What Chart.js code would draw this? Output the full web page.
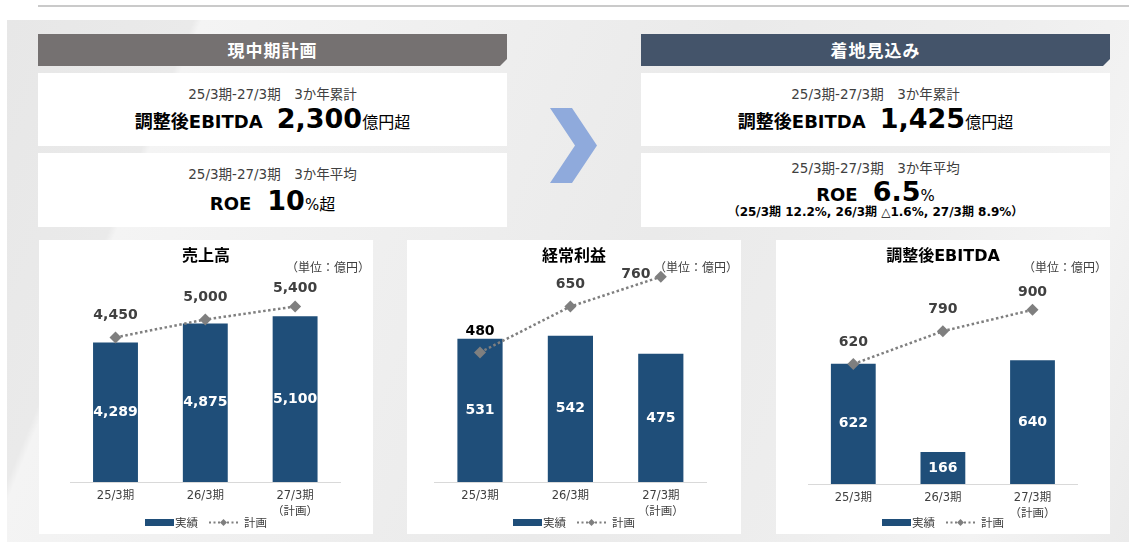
<!DOCTYPE html>
<html><head><meta charset="utf-8">
<script src="https://cdn.jsdelivr.net/npm/chart.js@4.4.1/dist/chart.umd.min.js"></script>
<style>
*{box-sizing:border-box;margin:0;padding:0}
html,body{width:1129px;height:559px;background:#fff;overflow:hidden;font-family:"DejaVu Sans","Noto Sans CJK JP",sans-serif;color:#000;position:relative}
.abs{position:absolute}
#topline{left:38px;top:5px;width:1091px;height:2px;background:#cacaca}
#bg{left:7px;top:20px;width:1122px;height:522px;background:linear-gradient(112deg,#e7e7e7 0%,#eaeaea 14%,#f4f4f4 14.6%,#efefef 35%,#eaeaea 55%,#eeeeee 75%,#f3f3f3 88%,#ebebeb 100%)}
.hdr{position:absolute;top:34px;height:32px;width:469px;color:#fff;font-weight:bold;font-size:17px;letter-spacing:1px;line-height:32px;text-align:center;font-family:"Noto Sans CJK JP",sans-serif;clip-path:polygon(0 0,100% 0,100% calc(100% - 7px),calc(100% - 7px) 100%,0 100%)}
.box{position:absolute;background:#fff;width:469px}
.l1{position:absolute;left:0;width:100%;text-align:center;font-size:13.5px;line-height:16px;color:#404040;white-space:nowrap}
.l2{position:absolute;left:0;width:100%;text-align:center;font-size:27px;line-height:30px;font-weight:bold;white-space:nowrap}
.lbl{font-size:18px}
.unit{font-size:16px;font-weight:normal}
.pct{font-size:15px;font-weight:normal}
.l3{position:absolute;left:0;width:100%;text-align:center;font-size:12px;line-height:14px;font-weight:bold;white-space:nowrap;color:#000}
.panel{position:absolute;background:#fff;width:334px;height:294px;top:240px}
.ptitle{position:absolute;left:0;top:6px;width:100%;text-align:center;font-weight:bold;font-size:16px;line-height:20px}
.punit{position:absolute;right:3px;top:20px;font-size:12px;line-height:14px;color:#404040;font-family:"Noto Sans CJK JP",sans-serif}
.legend{position:absolute;left:0;width:100%;top:275px;height:14px;display:flex;justify-content:center;align-items:center;font-size:11.5px;color:#404040;font-family:"Noto Sans CJK JP",sans-serif}
.sw{display:inline-block;width:29px;height:7px;background:#1f4e79;margin-right:1px}
canvas{position:absolute;left:0;top:0}
</style></head>
<body>
<div id="topline" class="abs"></div>
<div id="bg" class="abs"></div>

<div class="hdr" style="left:38px;background:#757171">現中期計画</div>
<div class="hdr" style="left:641px;background:#44546a">着地見込み</div>

<div class="box" style="left:38px;top:73px;height:73px">
  <div class="l1" style="top:13px">25/3期-27/3期　3か年累計</div>
  <div class="l2" style="top:31px"><span class="lbl">調整後EBITDA</span><span style="margin-left:14px">2,300</span><span class="unit">億円超</span></div>
</div>
<div class="box" style="left:38px;top:153px;height:74px">
  <div class="l1" style="top:13px">25/3期-27/3期　3か年平均</div>
  <div class="l2" style="top:33px"><span class="lbl">ROE</span><span style="margin-left:16px">10</span><span class="pct">%</span><span class="unit">超</span></div>
</div>

<svg class="abs" style="left:550px;top:108px" width="47" height="75" viewBox="0 0 47 75"><polygon points="0,0 22,0 47,37.5 22,75 0,75 25,37.5" fill="#8faadc"/></svg>

<div class="box" style="left:641px;top:73px;height:73px">
  <div class="l1" style="top:13px">25/3期-27/3期　3か年累計</div>
  <div class="l2" style="top:31px"><span class="lbl">調整後EBITDA</span><span style="margin-left:14px">1,425</span><span class="unit">億円超</span></div>
</div>
<div class="box" style="left:641px;top:153px;height:74px">
  <div class="l1" style="top:7px">25/3期-27/3期　3か年平均</div>
  <div class="l2" style="top:24px"><span class="lbl">ROE</span><span style="margin-left:15px">6.5</span><span class="pct">%</span></div>
  <div class="l3" style="top:52px">（25/3期 12.2%, 26/3期 △1.6%, 27/3期 8.9%）</div>
</div>

<div class="panel" style="left:39px">
  <canvas id="c1" width="334" height="294"></canvas>
  <div class="ptitle">売上高</div>
  <div class="punit">（単位：億円）</div>
  <div class="legend"><span class="sw"></span>実績<svg width="29" height="9" style="margin:0 6px 0 11px"><line x1="0" y1="4.5" x2="29" y2="4.5" stroke="#7f7f7f" stroke-width="2" stroke-dasharray="2,2.5"/><polygon points="14.5,1 18,4.5 14.5,8 11,4.5" fill="#7f7f7f"/></svg>計画</div>
</div>
<div class="panel" style="left:407px">
  <canvas id="c2" width="334" height="294"></canvas>
  <div class="ptitle">経常利益</div>
  <div class="punit">（単位：億円）</div>
  <div class="legend"><span class="sw"></span>実績<svg width="29" height="9" style="margin:0 6px 0 11px"><line x1="0" y1="4.5" x2="29" y2="4.5" stroke="#7f7f7f" stroke-width="2" stroke-dasharray="2,2.5"/><polygon points="14.5,1 18,4.5 14.5,8 11,4.5" fill="#7f7f7f"/></svg>計画</div>
</div>
<div class="panel" style="left:776px">
  <canvas id="c3" width="334" height="294"></canvas>
  <div class="ptitle">調整後EBITDA</div>
  <div class="punit">（単位：億円）</div>
  <div class="legend"><span class="sw"></span>実績<svg width="29" height="9" style="margin:0 6px 0 11px"><line x1="0" y1="4.5" x2="29" y2="4.5" stroke="#7f7f7f" stroke-width="2" stroke-dasharray="2,2.5"/><polygon points="14.5,1 18,4.5 14.5,8 11,4.5" fill="#7f7f7f"/></svg>計画</div>
</div>

<script>
// ---- data ----
const tickLabels = [["25/3期"], ["26/3期"], ["27/3期", "（計画）"]];
const salesActual = [4289, 4875, 5100];
const salesPlan = [4450, 5000, 5400];
const ordinaryActual = [531, 542, 475];
const ordinaryPlan = [480, 650, 760];
const ebitdaActual = [622, 166, 640];
const ebitdaPlan = [620, 790, 900];

const FONT = '"DejaVu Sans","Noto Sans CJK JP",sans-serif';

const valueLabels = {
  id: 'valueLabels',
  afterDatasetsDraw(chart, args, opts) {
    const ctx = chart.ctx;
    ctx.save();
    ctx.textAlign = 'center';
    ctx.textBaseline = 'middle';
    ctx.font = 'bold 14px ' + FONT;
    chart.data.datasets.forEach((ds, i) => {
      const meta = chart.getDatasetMeta(i);
      meta.data.forEach((el, j) => {
        const txt = ds.data[j].toLocaleString('en-US');
        if (meta.type === 'bar') {
          const p = el.getProps(['x', 'y', 'base'], true);
          ctx.fillStyle = '#ffffff';
          ctx.fillText(txt, p.x, (p.y + p.base) / 2);
        } else {
          const off = opts.lineOffsets[j];
          ctx.fillStyle = opts.lineColors[j];
          ctx.fillText(txt, el.x + off[0], el.y + off[1]);
        }
      });
    });
    ctx.restore();
  }
};

function makeChart(id, actual, plan, cfg) {
  return new Chart(document.getElementById(id), {
    type: 'bar',
    data: {
      labels: tickLabels,
      datasets: [
        { type: 'line', label: '計画', data: plan, order: 0, borderColor: '#7f7f7f', borderWidth: 2.5,
          borderDash: [2.5, 2.5], borderCapStyle: 'butt', pointStyle: 'rectRot', pointRadius: 6,
          pointBackgroundColor: '#7f7f7f', pointBorderWidth: 0, fill: false, tension: 0, clip: false },
        { type: 'bar', label: '実績', data: actual, order: 1, backgroundColor: '#1f4e79',
          barPercentage: 0.5, categoryPercentage: 1 }
      ]
    },
    options: {
      responsive: false, animation: false, devicePixelRatio: 1, events: [],
      layout: { padding: cfg.pad },
      plugins: {
        legend: { display: false }, tooltip: { enabled: false }, title: { display: false },
        valueLabels: { lineOffsets: cfg.offs, lineColors: cfg.cols }
      },
      scales: {
        x: {
          grid: { display: false, drawTicks: false },
          border: { display: true, color: '#d9d9d9', width: 1 },
          ticks: { padding: 6, color: '#404040', maxRotation: 0, autoSkip: false, font: { family: FONT, size: 11.5, lineHeight: 1.4 } },
          afterFit: s => { s.height = cfg.axisH; }
        },
        y: { display: false, min: 0, max: cfg.max }
      }
    },
    plugins: [valueLabels]
  });
}

makeChart('c1', salesActual, salesPlan, {
  pad: { left: 31.6, right: 33, top: 47, bottom: 0 }, axisH: 52, max: 6000,
  offs: [[0, -22], [0, -22], [0, -18]], cols: ['#404040', '#404040', '#404040']
});
makeChart('c2', ordinaryActual, ordinaryPlan, {
  pad: { left: 27.8, right: 35, top: 12.5, bottom: 0 }, axisH: 52, max: 850,
  offs: [[0, -21], [0, -22], [-25, -2.5]], cols: ['#000000', '#404040', '#404040']
});
makeChart('c3', ebitdaActual, ebitdaPlan, {
  pad: { left: 32.5, right: 32.7, top: 50.5, bottom: 0 }, axisH: 50, max: 1000,
  offs: [[0, -22], [0, -22], [0, -17]], cols: ['#404040', '#404040', '#404040']
});
</script>
</body></html>
